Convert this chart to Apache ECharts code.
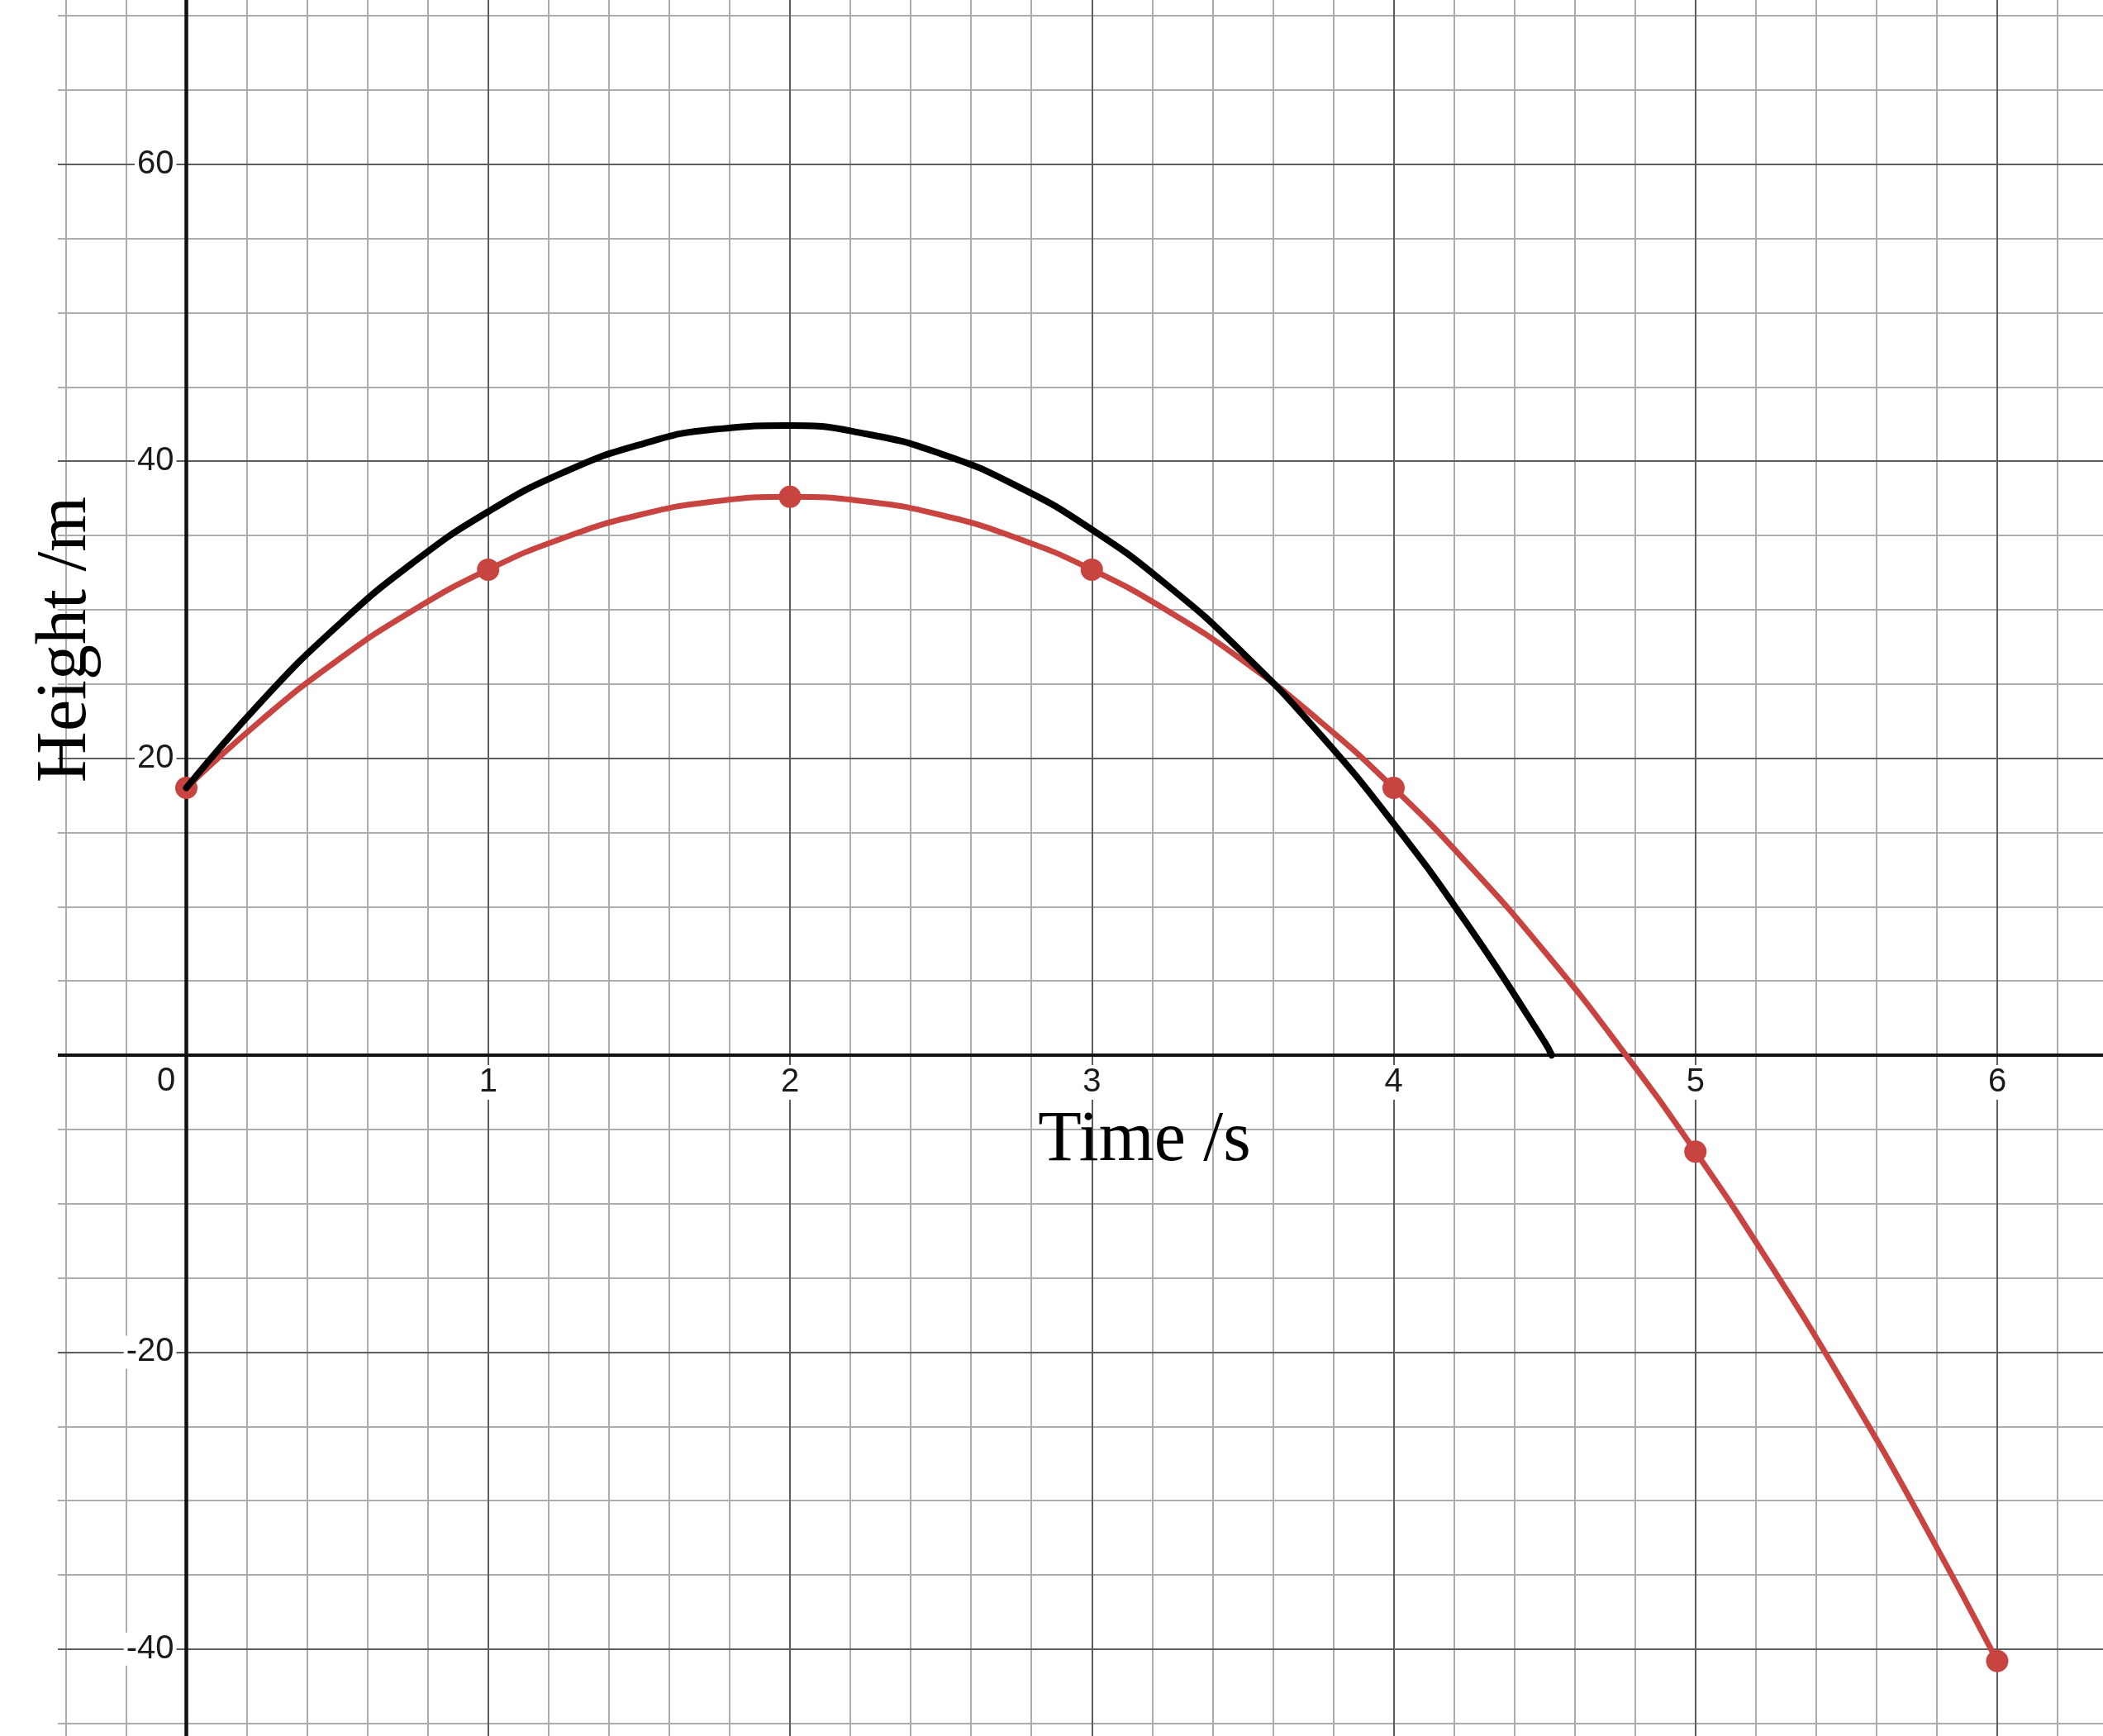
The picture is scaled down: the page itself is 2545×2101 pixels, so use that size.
<!DOCTYPE html>
<html>
<head>
<meta charset="utf-8">
<script src="https://cdn.jsdelivr.net/npm/echarts@6.0.0/dist/echarts.min.js"></script>
<style>
html, body {margin: 0; padding: 0; background: #fff;}
#main {width: 2545px; height: 2101px;}
</style>
</head>
<body>
<div id="main"></div>
<script>
// values
var redTime = [0, 0.25, 0.5, 0.75, 1, 1.25, 1.5, 1.75, 2, 2.25, 2.5, 2.75, 3, 3.25, 3.5, 3.75, 4, 4.25, 4.5, 4.75, 5, 5.25, 5.5, 5.75, 6];
var redHeight = [18, 22.59, 26.58, 29.94, 32.7, 34.84, 36.38, 37.29, 37.6, 37.29, 36.38, 34.84, 32.7, 29.94, 26.58, 22.59, 18, 12.79, 6.98, 0.54, -6.5, -14.16, -22.43, -31.31, -40.8];
var dotTime = [0, 1, 2, 3, 4, 5, 6];
var dotHeight = [18, 32.7, 37.6, 32.7, 18, -6.5, -40.8];
var blackTime = [0, 0.25, 0.5, 0.75, 1, 1.25, 1.5, 1.75, 2, 2.25, 2.5, 2.75, 3, 3.25, 3.5, 3.75, 4, 4.25, 4.5, 4.524];
var blackHeight = [18, 23.85, 28.9, 33.15, 36.6, 39.25, 41.1, 42.15, 42.4, 41.85, 40.5, 38.35, 35.4, 31.65, 27.1, 21.75, 15.6, 8.65, 0.9, 0];
var xRange = [-1, 7];
var yRange = [-60, 80];
var xTitle = 'Time /s';
var yTitle = 'Height /m';

function pairs(xs, ys) {
    return xs.map(function (x, i) { return [x, ys[i]]; });
}

var myChart = echarts.init(document.getElementById('main'));

var labelFont = {fontSize: 40, fontFamily: 'Liberation Sans', color: '#1a1a1a'};

option = {
    animation: false,
    backgroundColor: '#fff',
    grid: {
        left: -139.75, right: -237.25, top: -160.6, bottom: -254.2,
        containLabel: false, outerBoundsMode: 'none'
    },
    xAxis: [
        {
            type: 'value', min: xRange[0], max: xRange[1], interval: 1, z: 1,
            position: 'bottom', offset: -1078.2,
            axisLine: {onZero: false, lineStyle: {color: '#111', width: 4}},
            axisTick: {show: false},
            axisLabel: {
                show: true,
                margin: 12,
                formatter: function (v) {
                    if (v === 0) return '{z|0}';
                    return '{n|' + v + '}';
                },
                rich: {
                    z: Object.assign({padding: [0, 49, 0, 0]}, labelFont),
                    n: Object.assign({backgroundColor: '#fff', padding: [1, 3]}, labelFont)
                }
            },
            splitLine: {show: true, lineStyle: {color: '#5c5c5c', width: 2}}
        },
        {
            type: 'value', min: xRange[0], max: xRange[1], interval: 0.2, z: 0,
            axisLine: {show: false}, axisTick: {show: false}, axisLabel: {show: false},
            splitLine: {show: true, lineStyle: {color: '#acacac', width: 2}}
        }
    ],
    yAxis: [
        {
            type: 'value', min: yRange[0], max: yRange[1], interval: 20, z: 1,
            position: 'left', offset: -365.25,
            axisLine: {onZero: false, lineStyle: {color: '#111', width: 4.5}},
            axisTick: {show: false},
            axisLabel: Object.assign({
                show: true,
                margin: 12,
                backgroundColor: '#fff',
                padding: [0, 3],
                formatter: function (v) { return v === 0 ? '' : String(v); }
            }, labelFont),
            splitLine: {show: true, lineStyle: {color: '#5c5c5c', width: 2}}
        },
        {
            type: 'value', min: yRange[0], max: yRange[1], interval: 5, z: 0,
            axisLine: {show: false}, axisTick: {show: false}, axisLabel: {show: false},
            splitLine: {show: true, lineStyle: {color: '#acacac', width: 2}}
        }
    ],
    graphic: [
        {type: 'rect', shape: {x: 0, y: 0, width: 70, height: 2101}, style: {fill: '#fff'}, z: 5},
        {
            type: 'text', x: 1385, y: 1381, z: 6,
            style: {text: xTitle, font: '86px "Liberation Serif"', fill: '#000',
                    align: 'center', verticalAlign: 'middle', textAlign: 'center', textVerticalAlign: 'middle'}
        },
        {
            type: 'text', x: 80, y: 774, rotation: Math.PI / 2, z: 6,
            style: {text: yTitle, font: '86px "Liberation Serif"', fill: '#000',
                    align: 'center', verticalAlign: 'middle', textAlign: 'center', textVerticalAlign: 'middle'}
        }
    ],
    series: [
        {
            type: 'line', data: pairs(redTime, redHeight), smooth: 0.5,
            showSymbol: false, lineStyle: {color: '#c74440', width: 7, cap: 'round'}
        },
        {
            type: 'scatter', data: pairs(dotTime, dotHeight), symbolSize: 27,
            itemStyle: {color: '#c74440', opacity: 1}
        },
        {
            type: 'line', data: pairs(blackTime, blackHeight), smooth: 0.5,
            showSymbol: false, lineStyle: {color: '#000', width: 8, cap: 'round'}
        }
    ]
};

myChart.setOption(option);
</script>
</body>
</html>
